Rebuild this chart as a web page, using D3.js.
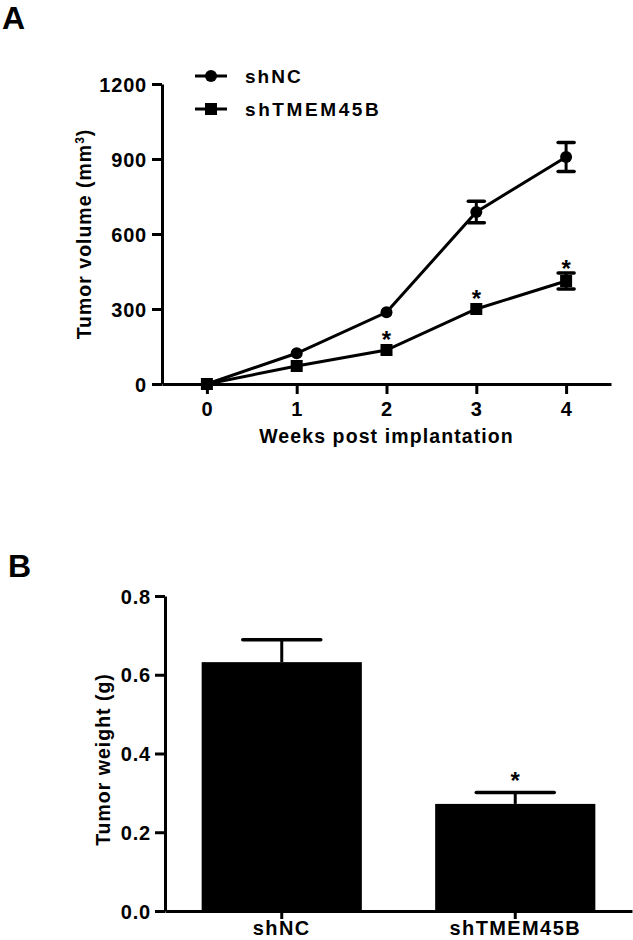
<!DOCTYPE html>
<html>
<head>
<meta charset="utf-8">
<script src="https://cdn.jsdelivr.net/npm/d3@7"></script>
<style>
  html, body { margin: 0; padding: 0; background: #fff; }
  svg { display: block; }
  text { font-family: "Liberation Sans", Arial, Helvetica, sans-serif; font-weight: bold; fill: #000; }
</style>
</head>
<body>
<svg id="chart" width="633" height="940"></svg>
<script>
// ---------- Data: panel A (tumor volume) ----------
const weeks = [0, 1, 2, 3, 4];
const shNCVolume = [0, 123, 287, 688, 908];
const shNCVolumeErr = [0, 8, 10, 43, 58];
const shTMVolume = [0, 72, 136, 300, 412];
const shTMVolumeErr = [0, 6, 10, 14, 32];
const sigWeeks = [2, 3, 4];
const volumeTicks = [0, 300, 600, 900, 1200];
const weekTicks = [0, 1, 2, 3, 4];
const seriesNames = ["shNC", "shTMEM45B"];

// ---------- Data: panel B (tumor weight) ----------
const groups = ["shNC", "shTMEM45B"];
const weightMean = [0.632, 0.272];
const weightErr = [0.057, 0.029];
const weightSig = [false, true];
const weightTicks = [0.0, 0.2, 0.4, 0.6, 0.8];

const svg = d3.select("#chart");
const SW = 3;
const MARK = 6; // marker half-size

// ================= Panel A =================
const gA = svg.append("g");
gA.append("text").attr("x", 2).attr("y", 29).style("font-size", "32px").text("A");

const xA = d3.scaleLinear().domain([-0.5, 4.5]).range([162, 611]);
const yA = d3.scaleLinear().domain([0, 1200]).range([384, 84]);

const yAxisA = d3.axisLeft(yA).tickValues(volumeTicks).tickFormat(d3.format("d"))
  .tickSize(10).tickPadding(5).tickSizeOuter(0);
const gyA = gA.append("g").attr("transform", `translate(${xA(-0.5)},0)`).call(yAxisA);
const xAxisA = d3.axisBottom(xA).tickValues(weekTicks).tickFormat(d3.format("d"))
  .tickSize(10).tickPadding(5).tickSizeOuter(0);
const gxA = gA.append("g").attr("transform", `translate(0,${yA(0)})`).call(xAxisA);

[gyA, gxA].forEach(g => {
  g.select(".domain").attr("stroke", "#000").attr("stroke-width", SW);
  g.selectAll(".tick line").attr("stroke", "#000").attr("stroke-width", SW);
  g.selectAll(".tick text").style("font-size", "20px").style("letter-spacing", "0.8px")
    .attr("font-family", null).attr("font-size", null);
});
gyA.selectAll(".tick text").attr("dy", "0.36em");
gxA.selectAll(".tick text").attr("dy", "0.85em");

gA.append("text")
  .attr("transform", `translate(91,${(yA(0) + yA(1200)) / 2}) rotate(-90)`)
  .attr("text-anchor", "middle")
  .style("font-size", "19.5px").style("letter-spacing", "1px")
  .call(t => {
    t.append("tspan").text("Tumor volume (mm");
    t.append("tspan").attr("baseline-shift", "super").style("font-size", "12px").text("3");
    t.append("tspan").text(")");
  });
gA.append("text")
  .attr("x", (xA(-0.5) + xA(4.5)) / 2).attr("y", 443)
  .attr("text-anchor", "middle")
  .style("font-size", "19.5px").style("letter-spacing", "1.1px")
  .text("Weeks post implantation");

const seriesA = [
  { name: seriesNames[0], mean: shNCVolume, err: shNCVolumeErr, shape: "circle" },
  { name: seriesNames[1], mean: shTMVolume, err: shTMVolumeErr, shape: "square" }
];

const line = d3.line().x((d, i) => xA(weeks[i])).y(d => yA(d));
const capW = 8;

seriesA.forEach(s => {
  const g = gA.append("g");
  g.append("path").datum(s.mean).attr("d", line)
    .attr("fill", "none").attr("stroke", "#000").attr("stroke-width", SW);
  // error bars (hidden when shorter than the symbol, as in the original software)
  weeks.forEach((w, i) => {
    const x = xA(w), y1 = yA(s.mean[i] + s.err[i]), y0 = yA(s.mean[i] - s.err[i]);
    if (yA(s.mean[i]) - y1 <= MARK) return;
    g.append("line").attr("x1", x).attr("x2", x).attr("y1", y1).attr("y2", y0)
      .attr("stroke", "#000").attr("stroke-width", SW);
    [y1, y0].forEach(yy => g.append("line")
      .attr("x1", x - capW).attr("x2", x + capW).attr("y1", yy).attr("y2", yy)
      .attr("stroke", "#000").attr("stroke-width", 3.5).attr("stroke-linecap", "round"));
  });
  weeks.forEach((w, i) => {
    if (s.shape === "circle") {
      g.append("circle").attr("cx", xA(w)).attr("cy", yA(s.mean[i])).attr("r", MARK).attr("fill", "#000");
    } else {
      g.append("rect").attr("x", xA(w) - MARK).attr("y", yA(s.mean[i]) - MARK)
        .attr("width", 2 * MARK).attr("height", 2 * MARK).attr("fill", "#000");
    }
  });
});

sigWeeks.forEach(w => {
  const i = weeks.indexOf(w);
  const top = Math.min(yA(shTMVolume[i] + shTMVolumeErr[i]), yA(shTMVolume[i]) - MARK);
  gA.append("text").attr("x", xA(w)).attr("y", top - 10.5 + 14)
    .attr("text-anchor", "middle").style("font-size", "24px").text("*");
});

const legY = [76, 109];
seriesA.forEach((s, k) => {
  const g = gA.append("g");
  g.append("line").attr("x1", 195).attr("x2", 227).attr("y1", legY[k]).attr("y2", legY[k])
    .attr("stroke", "#000").attr("stroke-width", SW);
  if (s.shape === "circle") {
    g.append("circle").attr("cx", 211).attr("cy", legY[k]).attr("r", MARK).attr("fill", "#000");
  } else {
    g.append("rect").attr("x", 211 - MARK).attr("y", legY[k] - MARK).attr("width", 2 * MARK).attr("height", 2 * MARK).attr("fill", "#000");
  }
  g.append("text").attr("x", 245).attr("y", legY[k] + 6.5)
    .style("font-size", "19px").style("letter-spacing", k === 0 ? "2px" : "2.6px").text(s.name);
});

// ================= Panel B =================
const gB = svg.append("g");
gB.append("text").attr("x", 8).attr("y", 577).style("font-size", "32px").text("B");

const xB = d3.scaleBand().domain(groups).range([165, 632]).paddingInner(0.314).paddingOuter(0.157);
const yB = d3.scaleLinear().domain([0, 0.8]).range([911, 596]);

gB.selectAll("rect.bar").data(groups).join("rect").attr("class", "bar")
  .attr("x", d => xB(d)).attr("width", xB.bandwidth())
  .attr("y", (d, i) => yB(weightMean[i]))
  .attr("height", (d, i) => yB(0) - yB(weightMean[i]))
  .attr("fill", "#000");

groups.forEach((gname, i) => {
  const cx = xB(gname) + xB.bandwidth() / 2;
  const yTop = yB(weightMean[i] + weightErr[i]);
  gB.append("line").attr("x1", cx).attr("x2", cx).attr("y1", yB(weightMean[i])).attr("y2", yTop)
    .attr("stroke", "#000").attr("stroke-width", SW);
  gB.append("line").attr("x1", cx - 39).attr("x2", cx + 39).attr("y1", yTop).attr("y2", yTop)
    .attr("stroke", "#000").attr("stroke-width", 3.5).attr("stroke-linecap", "round");
  if (weightSig[i]) {
    gB.append("text").attr("x", cx).attr("y", yTop - 17.7 + 14)
      .attr("text-anchor", "middle").style("font-size", "24px").text("*");
  }
});

const yAxisB = d3.axisLeft(yB).tickValues(weightTicks).tickFormat(d3.format(".1f"))
  .tickSize(10).tickPadding(4).tickSizeOuter(0);
const gyB = gB.append("g").attr("transform", "translate(165,0)").call(yAxisB);
const xAxisB = d3.axisBottom(xB).tickSize(8).tickPadding(6).tickSizeOuter(0);
const gxB = gB.append("g").attr("transform", `translate(0,${yB(0)})`).call(xAxisB);

[gyB, gxB].forEach(g => {
  g.select(".domain").attr("stroke", "#000").attr("stroke-width", SW);
  g.selectAll(".tick line").attr("stroke", "#000").attr("stroke-width", SW);
  g.selectAll(".tick text").style("font-size", "20px").style("letter-spacing", "0.8px")
    .attr("font-family", null).attr("font-size", null);
});
gyB.selectAll(".tick text").attr("dy", "0.36em");
gxB.selectAll(".tick text").attr("y", null).attr("dy", null)
  .attr("transform", "translate(0,24)").style("letter-spacing", "1.4px");

gB.append("text")
  .attr("transform", `translate(110,${(yB(0) + yB(0.8)) / 2 + 6}) rotate(-90)`)
  .attr("text-anchor", "middle")
  .style("font-size", "19.5px").style("letter-spacing", "1px")
  .text("Tumor weight (g)");
</script>
</body>
</html>
